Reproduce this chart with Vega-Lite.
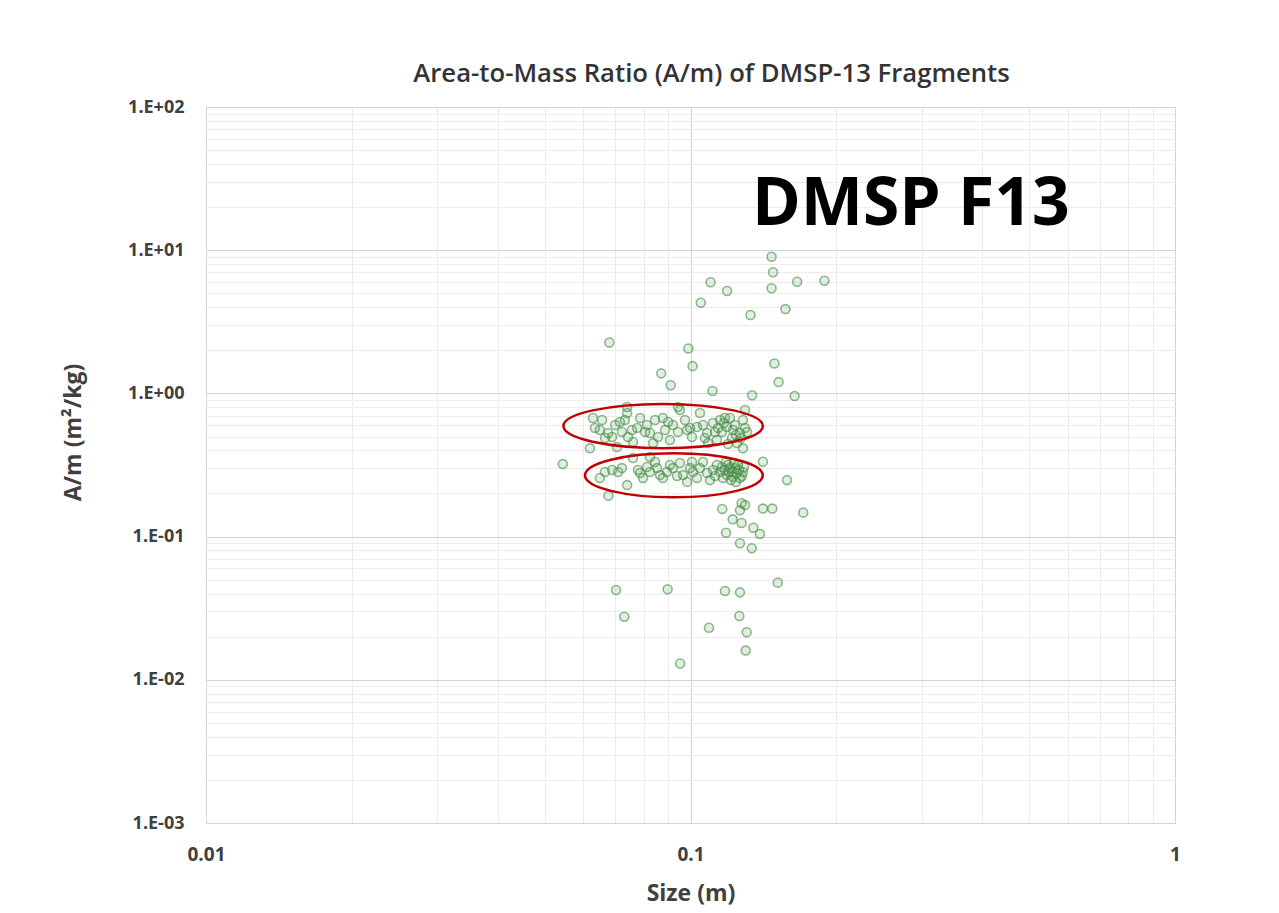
{
  "$schema": "https://vega.github.io/schema/vega-lite/v6.json",
  "width": 969,
  "height": 716,
  "autosize": "none",
  "padding": {"left": 206, "top": 107, "right": 104, "bottom": 90},
  "background": "white",
  "title": {
    "text": "Area-to-Mass Ratio (A/m) of DMSP-13 Fragments",
    "font": "Open Sans",
    "fontSize": 25.7,
    "fontWeight": 600,
    "color": "#333333",
    "anchor": "middle",
    "dx": 21,
    "baseline": "alphabetic",
    "offset": -10
  },
  "config": {
    "view": {"stroke": "#d6d6d6", "strokeWidth": 1}
  },
  "layer": [
    {
      "data": {
        "values": [
          {"size": 0.147, "am": 9.01}, {"size": 0.148, "am": 7.01}, {"size": 0.166, "am": 6.03}, {"size": 0.189, "am": 6.12},
          {"size": 0.110, "am": 5.97}, {"size": 0.119, "am": 5.19}, {"size": 0.147, "am": 5.42}, {"size": 0.105, "am": 4.30},
          {"size": 0.157, "am": 3.88}, {"size": 0.133, "am": 3.53}, {"size": 0.068, "am": 2.27}, {"size": 0.099, "am": 2.06},
          {"size": 0.101, "am": 1.55}, {"size": 0.149, "am": 1.62}, {"size": 0.087, "am": 1.38}, {"size": 0.091, "am": 1.14},
          {"size": 0.152, "am": 1.20}, {"size": 0.111, "am": 1.04}, {"size": 0.134, "am": 0.970}, {"size": 0.164, "am": 0.959},
          {"size": 0.0629, "am": 0.673}, {"size": 0.0657, "am": 0.652}, {"size": 0.0635, "am": 0.574}, {"size": 0.0676, "am": 0.529},
          {"size": 0.0689, "am": 0.496}, {"size": 0.0715, "am": 0.632}, {"size": 0.0740, "am": 0.730}, {"size": 0.0722, "am": 0.538},
          {"size": 0.0743, "am": 0.496}, {"size": 0.0787, "am": 0.673}, {"size": 0.0776, "am": 0.574}, {"size": 0.0813, "am": 0.602},
          {"size": 0.0825, "am": 0.529}, {"size": 0.0877, "am": 0.673}, {"size": 0.0886, "am": 0.555}, {"size": 0.0920, "am": 0.602},
          {"size": 0.0951, "am": 0.766}, {"size": 0.0942, "am": 0.538}, {"size": 0.0984, "am": 0.555}, {"size": 0.1031, "am": 0.583},
          {"size": 0.1046, "am": 0.730}, {"size": 0.1007, "am": 0.496}, {"size": 0.1082, "am": 0.529}, {"size": 0.1113, "am": 0.622},
          {"size": 0.1151, "am": 0.652}, {"size": 0.1161, "am": 0.538}, {"size": 0.1189, "am": 0.583}, {"size": 0.1224, "am": 0.555},
          {"size": 0.1218, "am": 0.488}, {"size": 0.1265, "am": 0.529}, {"size": 0.1283, "am": 0.652}, {"size": 0.1247, "am": 0.450},
          {"size": 0.1087, "am": 0.450}, {"size": 0.0837, "am": 0.450}, {"size": 0.0705, "am": 0.422}, {"size": 0.0761, "am": 0.458},
          {"size": 0.0942, "am": 0.804}, {"size": 0.1296, "am": 0.766}, {"size": 0.0740, "am": 0.804}, {"size": 0.1178, "am": 0.673},
          {"size": 0.1235, "am": 0.602}, {"size": 0.1140, "am": 0.574}, {"size": 0.1296, "am": 0.574}, {"size": 0.0620, "am": 0.4135},
          {"size": 0.1283, "am": 0.4135},
          {"size": 0.0650, "am": 0.555}, {"size": 0.0666, "am": 0.488}, {"size": 0.0699, "am": 0.602}, {"size": 0.0732, "am": 0.652},
          {"size": 0.0757, "am": 0.555}, {"size": 0.0806, "am": 0.538}, {"size": 0.0845, "am": 0.652}, {"size": 0.0857, "am": 0.496},
          {"size": 0.0899, "am": 0.632}, {"size": 0.0907, "am": 0.473}, {"size": 0.0974, "am": 0.652}, {"size": 0.0998, "am": 0.574},
          {"size": 0.1061, "am": 0.602}, {"size": 0.1071, "am": 0.488}, {"size": 0.1124, "am": 0.538}, {"size": 0.1134, "am": 0.473},
          {"size": 0.1172, "am": 0.622}, {"size": 0.1206, "am": 0.673}, {"size": 0.1241, "am": 0.512}, {"size": 0.1271, "am": 0.488},
          {"size": 0.1195, "am": 0.443}, {"size": 0.1308, "am": 0.538},
          {"size": 0.0666, "am": 0.283}, {"size": 0.0689, "am": 0.292}, {"size": 0.0709, "am": 0.283}, {"size": 0.0740, "am": 0.229},
          {"size": 0.0813, "am": 0.306}, {"size": 0.0825, "am": 0.283}, {"size": 0.0845, "am": 0.332}, {"size": 0.0865, "am": 0.269},
          {"size": 0.0894, "am": 0.283}, {"size": 0.0920, "am": 0.301}, {"size": 0.0951, "am": 0.327}, {"size": 0.0965, "am": 0.269},
          {"size": 0.0984, "am": 0.241}, {"size": 0.1007, "am": 0.332}, {"size": 0.1012, "am": 0.283}, {"size": 0.1046, "am": 0.301},
          {"size": 0.1082, "am": 0.278}, {"size": 0.1097, "am": 0.248}, {"size": 0.1113, "am": 0.292}, {"size": 0.1151, "am": 0.283},
          {"size": 0.1189, "am": 0.269}, {"size": 0.1206, "am": 0.301}, {"size": 0.1224, "am": 0.261}, {"size": 0.1247, "am": 0.278},
          {"size": 0.1265, "am": 0.257}, {"size": 0.1283, "am": 0.283}, {"size": 0.0825, "am": 0.360}, {"size": 0.0761, "am": 0.354},
          {"size": 0.1178, "am": 0.292}, {"size": 0.1195, "am": 0.316}, {"size": 0.1235, "am": 0.301}, {"size": 0.1218, "am": 0.283},
          {"size": 0.1253, "am": 0.316}, {"size": 0.1161, "am": 0.306}, {"size": 0.0787, "am": 0.278},
          {"size": 0.0650, "am": 0.257}, {"size": 0.0722, "am": 0.301}, {"size": 0.0779, "am": 0.292}, {"size": 0.0798, "am": 0.257},
          {"size": 0.0853, "am": 0.301}, {"size": 0.0877, "am": 0.257}, {"size": 0.0907, "am": 0.316}, {"size": 0.0938, "am": 0.265},
          {"size": 0.0998, "am": 0.301}, {"size": 0.1031, "am": 0.257}, {"size": 0.1061, "am": 0.332}, {"size": 0.1124, "am": 0.265},
          {"size": 0.1134, "am": 0.316}, {"size": 0.1167, "am": 0.257}, {"size": 0.1184, "am": 0.332}, {"size": 0.1212, "am": 0.248},
          {"size": 0.1230, "am": 0.327}, {"size": 0.1259, "am": 0.292}, {"size": 0.1277, "am": 0.265}, {"size": 0.1241, "am": 0.2405},
          {"size": 0.1201, "am": 0.283}, {"size": 0.1289, "am": 0.306},
          {"size": 0.0545, "am": 0.321}, {"size": 0.0677, "am": 0.193}, {"size": 0.1411, "am": 0.333}, {"size": 0.1582, "am": 0.248},
          {"size": 0.1163, "am": 0.156}, {"size": 0.1275, "am": 0.171}, {"size": 0.1265, "am": 0.153}, {"size": 0.1296, "am": 0.166},
          {"size": 0.1411, "am": 0.157}, {"size": 0.1475, "am": 0.157}, {"size": 0.1709, "am": 0.147}, {"size": 0.1222, "am": 0.132},
          {"size": 0.1275, "am": 0.1245}, {"size": 0.1184, "am": 0.1065}, {"size": 0.1348, "am": 0.1154}, {"size": 0.1391, "am": 0.1043},
          {"size": 0.1265, "am": 0.0898}, {"size": 0.1338, "am": 0.0829},
          {"size": 0.1514, "am": 0.0477}, {"size": 0.0702, "am": 0.0424}, {"size": 0.0897, "am": 0.0429}, {"size": 0.1178, "am": 0.0417},
          {"size": 0.1265, "am": 0.0408}, {"size": 0.0730, "am": 0.0276}, {"size": 0.1261, "am": 0.0279}, {"size": 0.1092, "am": 0.0231},
          {"size": 0.1306, "am": 0.0215}, {"size": 0.1300, "am": 0.0160}, {"size": 0.0952, "am": 0.0130}
        ]
      },
      "mark": {
        "type": "circle",
        "size": 80,
        "opacity": 1,
        "fill": "#3f9f3f",
        "fillOpacity": 0.16,
        "stroke": "#4a874a",
        "strokeOpacity": 0.6,
        "strokeWidth": 1.6
      },
      "encoding": {
        "x": {
          "field": "size",
          "type": "quantitative",
          "scale": {"type": "log", "domain": [0.01, 1], "nice": false},
          "axis": {
            "title": "Size (m)",
            "values": [0.01, 0.02, 0.03, 0.04, 0.05, 0.06, 0.07, 0.08, 0.09, 0.1, 0.2, 0.3, 0.4, 0.5, 0.6, 0.7, 0.8, 0.9, 1],
            "grid": true,
            "gridColor": {"condition": {"test": "abs(log(datum.value)/LN10 - round(log(datum.value)/LN10)) < 0.000001", "value": "#d4d4d4"}, "value": "#ededed"},
            "gridWidth": 1,
            "labelExpr": "abs(log(datum.value)/LN10 - round(log(datum.value)/LN10)) < 0.000001 ? format(datum.value, '~g') : ''",
            "labelOverlap": false,
            "labelFlush": false,
            "domain": false,
            "ticks": false,
            "tickSize": 0,
            "labelPadding": 22,
            "labelFont": "Open Sans",
            "labelFontWeight": "bold",
            "labelFontSize": 19,
            "labelColor": "#404040",
            "titleFont": "Open Sans",
            "titleFontWeight": "bold",
            "titleFontSize": 23,
            "titleColor": "#404040",
            "titleBaseline": "middle",
            "titleY": 70
          }
        },
        "y": {
          "field": "am",
          "type": "quantitative",
          "scale": {"type": "log", "domain": [0.001, 100], "nice": false},
          "axis": {
            "title": "A/m (m²/kg)",
            "values": [0.001, 0.002, 0.003, 0.004, 0.005, 0.006, 0.007, 0.008, 0.009, 0.01, 0.02, 0.03, 0.04, 0.05, 0.06, 0.07, 0.08, 0.09, 0.1, 0.2, 0.3, 0.4, 0.5, 0.6, 0.7, 0.8, 0.9, 1, 2, 3, 4, 5, 6, 7, 8, 9, 10, 20, 30, 40, 50, 60, 70, 80, 90, 100],
            "grid": true,
            "gridColor": {"condition": {"test": "abs(log(datum.value)/LN10 - round(log(datum.value)/LN10)) < 0.000001", "value": "#d4d4d4"}, "value": "#ededed"},
            "gridWidth": 1,
            "labelExpr": "abs(log(datum.value)/LN10 - round(log(datum.value)/LN10)) < 0.000001 ? '1.E' + (datum.value >= 1 ? '+' : '-') + '0' + abs(round(log(datum.value)/LN10)) : ''",
            "labelOverlap": false,
            "labelFlush": false,
            "domain": false,
            "ticks": false,
            "tickSize": 0,
            "labelPadding": 22,
            "labelFont": "Open Sans",
            "labelFontWeight": "bold",
            "labelFontSize": 18,
            "labelColor": "#404040",
            "titleFont": "Open Sans",
            "titleFontWeight": "bold",
            "titleFontSize": 23,
            "titleColor": "#404040",
            "titleAngle": -90,
            "titleAlign": "center",
            "titleBaseline": "middle",
            "titleX": -133,
            "titleY": 325
          }
        }
      }
    },
    {
      "data": {"values": [{}]},
      "mark": {
        "type": "point",
        "shape": "M -1 0 A 1 0.222 0 1 0 1 0 A 1 0.222 0 1 0 -1 0 Z",
        "size": 39760,
        "filled": false,
        "opacity": 1,
        "stroke": "#c00000",
        "strokeWidth": 2.5
      },
      "encoding": {
        "x": {"datum": 0.0878, "type": "quantitative", "scale": {"type": "log"}},
        "y": {"datum": 0.5918, "type": "quantitative", "scale": {"type": "log"}}
      }
    },
    {
      "data": {"values": [{}]},
      "mark": {
        "type": "point",
        "shape": "M -1 0 A 1 0.248 0 1 0 1 0 A 1 0.248 0 1 0 -1 0 Z",
        "size": 31577,
        "filled": false,
        "opacity": 1,
        "stroke": "#c00000",
        "strokeWidth": 2.5
      },
      "encoding": {
        "x": {"datum": 0.0924, "type": "quantitative", "scale": {"type": "log"}},
        "y": {"datum": 0.268, "type": "quantitative", "scale": {"type": "log"}}
      }
    },
    {
      "data": {"values": [{}]},
      "mark": {
        "type": "text",
        "text": "DMSP F13",
        "align": "left",
        "baseline": "alphabetic",
        "font": "Open Sans",
        "fontWeight": "bold",
        "fontSize": 66,
        "color": "#000000"
      },
      "encoding": {
        "x": {"datum": 0.1339, "type": "quantitative", "scale": {"type": "log"}},
        "y": {"datum": 15.0, "type": "quantitative", "scale": {"type": "log"}}
      }
    }
  ]
}
